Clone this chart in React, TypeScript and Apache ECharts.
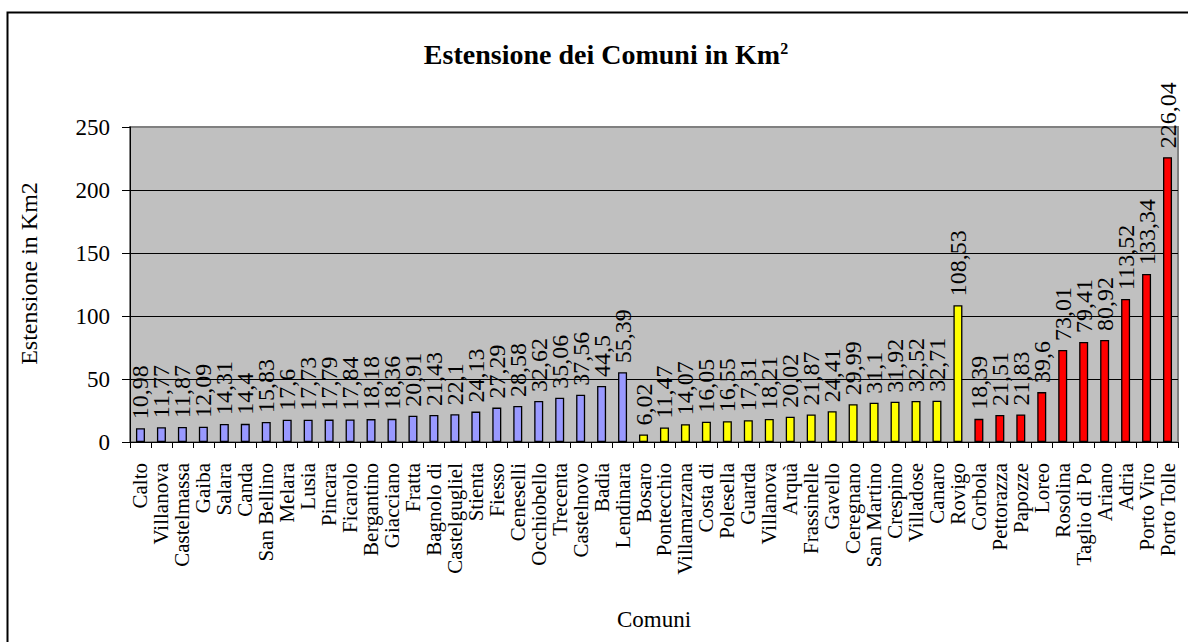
import React, { useEffect, useRef } from "react";
import * as echarts from "echarts";

// Group 1 (blue)
const blueNames = [
  "Calto", "Villanova", "Castelmassa", "Gaiba", "Salara", "Canda", "San Bellino", "Melara",
  "Lusia", "Pincara", "Ficarolo", "Bergantino", "Giacciano", "Fratta", "Bagnolo di",
  "Castelgugliel", "Stienta", "Fiesso", "Ceneselli", "Occhiobello", "Trecenta",
  "Castelnovo", "Badia", "Lendinara",
];
const blueValues = [
  10.98, 11.77, 11.87, 12.09, 14.31, 14.4, 15.83, 17.6, 17.73, 17.79, 17.84, 18.18, 18.36,
  20.91, 21.43, 22.1, 24.13, 27.29, 28.58, 32.62, 35.06, 37.56, 44.5, 55.39,
];
// Group 2 (yellow)
const yellowNames = [
  "Bosaro", "Pontecchio", "Villamarzana", "Costa di", "Polesella", "Guarda", "Villanova",
  "Arquà", "Frassinelle", "Gavello", "Ceregnano", "San Martino", "Crespino", "Villadose",
  "Canaro", "Rovigo",
];
const yellowValues = [
  6.02, 11.47, 14.07, 16.05, 16.55, 17.31, 18.21, 20.02, 21.87, 24.41, 29.99, 31.1, 31.92,
  32.52, 32.71, 108.53,
];
// Group 3 (red)
const redNames = [
  "Corbola", "Pettorazza", "Papozze", "Loreo", "Rosolina", "Taglio di Po", "Ariano",
  "Adria", "Porto Viro", "Porto Tolle",
];
const redValues = [18.39, 21.51, 21.83, 39.6, 73.01, 79.41, 80.92, 113.52, 133.34, 226.04];

const yTicks = [0, 50, 100, 150, 200, 250];

const FONT = "'Liberation Serif', 'Times New Roman', serif";

export default function App() {
  const ref = useRef<HTMLDivElement>(null);

  useEffect(() => {
    document.body.style.margin = "0";
    document.body.style.overflow = "hidden";
    if (!ref.current) return;
    const chart = echarts.init(ref.current, undefined, { renderer: "svg" });

    const categories = [...blueNames, ...yellowNames, ...redNames];
    const groups = [
      { values: blueValues, color: "#9999FF" },
      { values: yellowValues, color: "#FFFF00" },
      { values: redValues, color: "#FF0000" },
    ];
    const data: any[] = [];
    groups.forEach((g) =>
      g.values.forEach((v) => data.push({ value: v, itemStyle: { color: g.color } }))
    );

    chart.setOption({
      animation: false,
      backgroundColor: "#ffffff",
      title: {
        text: "{t|Estensione dei Comuni in Km}{s|2}",
        left: 601,
        top: 35,
        textAlign: "center",
        textStyle: {
          rich: {
            t: { fontFamily: FONT, fontSize: 28, fontWeight: "bold", color: "#000" },
            s: {
              fontFamily: FONT,
              fontSize: 16,
              fontWeight: "bold",
              color: "#000",
              verticalAlign: "top",
            },
          },
        },
      },
      graphic: [
        {
          type: "rect",
          shape: { x: 7.5, y: 12.5, width: 1400, height: 900 },
          style: { fill: "none", stroke: "#000", lineWidth: 2 },
          z: -10,
          silent: true,
        },
      ],
      grid: {
        left: 130,
        top: 127,
        right: 10,
        bottom: 200,
        show: true,
        backgroundColor: "#C0C0C0",
        borderColor: "#808080",
        borderWidth: 2,
      },
      xAxis: {
        type: "category",
        data: categories,
        name: "Comuni",
        nameLocation: "middle",
        nameGap: 166,
        nameTextStyle: { fontFamily: FONT, fontSize: 23, color: "#000" },
        axisLine: { show: true, lineStyle: { color: "#000", width: 1 } },
        axisTick: { show: true, length: 6, lineStyle: { color: "#000" }, interval: 0 },
        axisLabel: {
          interval: 0,
          rotate: 90,
          margin: 21,
          fontFamily: FONT,
          fontSize: 21,
          color: "#000",
        },
        splitLine: { show: false },
      },
      yAxis: {
        type: "value",
        min: yTicks[0],
        max: yTicks[yTicks.length - 1],
        interval: yTicks[1] - yTicks[0],
        name: "Estensione in Km2",
        nameLocation: "middle",
        nameRotate: 90,
        nameGap: 89,
        nameTextStyle: {
          fontFamily: FONT,
          fontSize: 24,
          color: "#000",
          padding: [0, 0, 0, 22],
        },
        axisLine: { show: true, lineStyle: { color: "#000", width: 1 } },
        axisTick: { show: true, length: 8, lineStyle: { color: "#000" } },
        axisLabel: { margin: 20, fontFamily: FONT, fontSize: 23, color: "#000" },
        splitLine: {
          show: true,
          showMaxLine: false,
          lineStyle: { color: "#000", width: 1 },
        },
      },
      series: [
        {
          type: "bar",
          data,
          barWidth: 9,
          itemStyle: { borderColor: "#000", borderWidth: 1.3 },
          label: {
            show: true,
            position: "top",
            distance: 9,
            rotate: 90,
            align: "left",
            verticalAlign: "middle",
            fontFamily: FONT,
            fontSize: 24,
            color: "#000",
            formatter: (p: any) => String(p.value).replace(".", ","),
          },
        },
      ],
    });

    return () => chart.dispose();
  }, []);

  return <div ref={ref} style={{ width: 1188, height: 642 }} />;
}
